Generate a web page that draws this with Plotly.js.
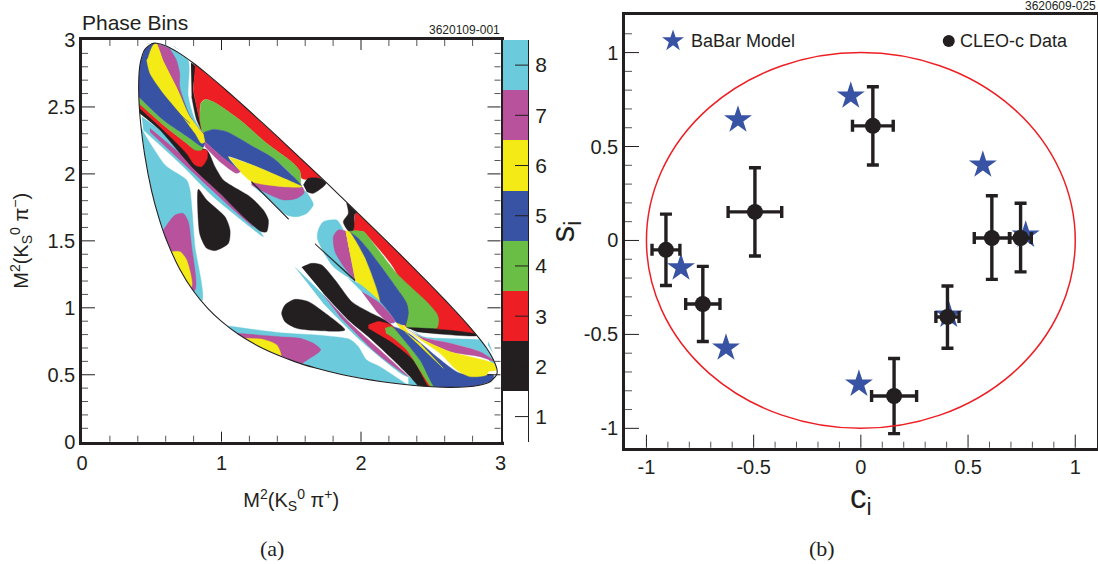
<!DOCTYPE html>
<html><head><meta charset="utf-8">
<script src="https://cdn.plot.ly/plotly-3.0.1.min.js"></script>
<style>html,body{margin:0;padding:0;background:#fff}#c{width:1098px;height:564px}</style>
</head><body><div id="c"></div>
<script>
// Panel (b) data
const starC=[-0.573,-0.047,0.569,0.769,0.41,-0.009,-0.629,-0.839];
const starS=[0.642,0.769,0.402,0.029,-0.397,-0.764,-0.572,-0.146];
const dataC=[-0.909,-0.737,-0.494,0.056,0.611,0.745,0.404,0.155];
const dataS=[-0.05,-0.338,0.152,0.61,0.013,0.013,-0.407,-0.828];
const errC=[0.065,0.08,0.125,0.095,0.082,0.05,0.054,0.105];
const errSup=[0.19,0.2,0.235,0.208,0.225,0.185,0.165,0.2];
const errSdn=[0.19,0.2,0.235,0.208,0.22,0.18,0.167,0.2];
// Colour scale
const binNames=[1,2,3,4,5,6,7,8];
const binColors=["#ffffff","#231f20","#ed1f24","#6abd45","#3953a4","#f4ea16","#b8529c","#6bcbdc"];
const binOnes=[1,1,1,1,1,1,1,1];
// Tick positions
const dalitzMajorX=[1,2];
const dalitzMinorX=[.2,.4,.6,.8,1.2,1.4,1.6,1.8,2.2,2.4,2.6,2.8];
const dalitzMajorY=[.5,1,1.5,2,2.5];
const dalitzMinorY=[.1,.2,.3,.4,.6,.7,.8,.9,1.1,1.2,1.3,1.4,1.6,1.7,1.8,1.9,2.1,2.2,2.3,2.4,2.6,2.7,2.8,2.9];
const phaseMajor=[-1,-0.5,0,0.5,1];
const phaseMinorX=[-.9,-.8,-.7,-.6,-.4,-.3,-.2,-.1,.1,.2,.3,.4,.6,.7,.8,.9];
const phaseMinorY=[-.9,-.8,-.7,-.6,-.4,-.3,-.2,-.1,.1,.2,.3,.4,.6,.7,.8,.9,1.1];
// Dalitz boundary, M2(KSpi+) and M2(KSpi-)
const edgeX=[.406,.41,.42,.45,.5,.533,.6,.7,.8,.9,1.0,1.1,1.3,1.5,1.75,2.0,2.3,2.6,2.8,2.9,2.95,2.976,2.972,2.929,2.84,2.764,2.64,2.512,2.382,2.139,1.868,1.675,1.521,1.29,1.124,.998,.9,.8,.7,.6,.55,.5,.45,.42,.41,.406];
const edgeY=[2.64,2.764,2.84,2.929,2.972,2.976,2.957,2.9,2.826,2.743,2.655,2.564,2.375,2.182,1.936,1.685,1.379,1.061,.832,.7,.61,.533,.5,.45,.42,.41,.406,.41,.42,.45,.5,.55,.6,.7,.8,.9,.998,1.124,1.29,1.521,1.675,1.868,2.139,2.382,2.512,2.64];
const frameX=[.09,.09,2.91,2.90,2.96,2.985,2.96,2.91,2.91,.72,.62,.52,.44,.41,.09,.09];
const frameY=[2.64,.09,.09,.38,.43,.53,.64,.72,2.91,2.91,2.975,2.99,2.96,2.91,2.91,2.64];
// Phase-bin regions, outlines
const leftCyanX=[.40,.44,.595,.643,.75,.774,.81,.858,.70,.30];
const leftCyanY=[2.42,2.315,2.066,2.029,1.954,1.879,1.457,1.046,1.05,2.0];
const leftMagX=[.583,.667,.726,.762,.786,.81,.70,.50];
const leftMagY=[1.581,1.693,1.705,1.643,1.457,1.133,1.10,1.50];
const leftYelX=[.643,.703,.75,.786,.70,.60];
const leftYelY=[1.419,1.419,1.357,1.157,1.15,1.35];
const dropAX=[.834,.894,1.025,1.061,1.049,.953,.894,.846,.829];
const dropAY=[1.885,1.805,1.68,1.581,1.481,1.427,1.444,1.544,1.755];
const stripCyanX=[.428,.559,.726,.834,1.061,1.30,1.204,.941,.726,.44];
const stripCyanY=[2.427,2.327,2.165,2.079,1.855,1.531,1.605,1.83,2.054,2.327];
const stripMagX=[.487,.726,.989,1.228,1.061,.726,.487];
const stripMagY=[2.34,2.128,1.855,1.605,1.755,2.079,2.315];
const bandBlackX=[.392,.774,.894,.953,1.013,1.085,1.204,1.30,1.336,1.324,1.288,1.157,.989,.81,.703,.559,.416,.392];
const bandBlackY=[2.514,2.2,2.178,2.054,1.954,1.904,1.83,1.73,1.655,1.568,1.568,1.68,1.855,2.029,2.153,2.327,2.452,2.47];
const topRedX=[.392,.583,.75,.81,.894,.898,.858,.81,.75,.583,.392];
const topRedY=[2.55,2.365,2.228,2.178,2.178,2.116,2.054,2.066,2.153,2.327,2.51];
const topGreenX=[.392,.583,.774,.87,.858,.81,.75,.583,.392];
const topGreenY=[2.59,2.402,2.265,2.215,2.178,2.178,2.228,2.365,2.54];
const topBlueX=[.392,.392,.47,.66,.74,.75,.80,.882,.87,.774,.583,.406];
const topBlueY=[2.564,2.826,2.97,2.93,2.85,2.6,2.4,2.24,2.2,2.265,2.402,2.577];
const topYelX=[.464,.487,.583,.703,.81,.858,.906,.774,.679,.583,.54,.511,.476];
const topYelY=[2.85,2.751,2.602,2.452,2.303,2.228,2.265,2.427,2.651,2.85,2.97,2.963,2.875];
const topSliverX=[.547,.619,.774,.703];
const topSliverY=[2.589,2.527,2.377,2.44];
const topMagX=[.54,.631,.679,.703,.703,.774,.858,.906,.822,.679,.583];
const topMagY=[2.97,2.937,2.85,2.751,2.651,2.44,2.315,2.265,2.365,2.651,2.85];
const topCyanX=[.571,.66,.762,.762,.81,.858,.774,.703,.703,.679,.631];
const topCyanY=[2.963,2.95,2.845,2.577,2.402,2.315,2.44,2.651,2.751,2.85,2.937];
const topBlackX=[.781,.81,.798,.822,.858,.822,.786];
const topBlackY=[2.83,2.806,2.626,2.502,2.327,2.402,2.577];
const upRedX=[.81,.79,1.75,1.706,1.634,1.575,1.563,1.515,1.324,1.133,.941,.882,.851,.846,.858,.822,.798];
const upRedY=[2.806,2.905,2.0,1.967,1.954,1.967,2.017,2.079,2.228,2.402,2.539,2.557,2.527,2.402,2.327,2.502,2.626];
const upGreenX=[.882,.941,1.133,1.324,1.515,1.563,1.563,1.515,1.372,1.228,1.037,.941,.87,.846,.851];
const upGreenY=[2.557,2.539,2.402,2.228,2.079,2.017,1.904,1.979,2.116,2.203,2.315,2.332,2.308,2.402,2.527];
const upBlueX=[.87,.941,1.037,1.228,1.372,1.515,1.575,1.419,1.252,1.049,1.133,.989,.882];
const upBlueY=[2.308,2.332,2.315,2.203,2.116,1.979,1.909,1.979,2.054,2.128,2.017,2.14,2.24];
const midCyanX=[1.216,1.443,1.591,1.646,1.658,1.611,1.539,1.467,1.348,1.216];
const midCyanY=[1.942,1.904,1.879,1.805,1.767,1.705,1.68,1.693,1.805,1.917];
const midMagX=[1.216,1.443,1.582,1.591,1.539,1.443,1.324,1.216];
const midMagY=[1.942,1.904,1.899,1.855,1.817,1.805,1.855,1.917];
const midYelX=[1.049,1.252,1.419,1.575,1.443,1.216,1.133];
const midYelY=[2.128,2.054,1.979,1.904,1.904,1.942,2.017];
const bandMagX=[.882,.989,1.133,1.109,.989,.882];
const bandMagY=[2.24,2.14,2.017,2.004,2.091,2.203];
const upBlackX=[1.587,1.622,1.706,1.75,1.658,1.611];
const upBlackY=[1.917,1.967,1.967,1.93,1.855,1.867];
const lineAX=[1.216,1.479,1.479,1.216];
const lineAY=[1.945,1.668,1.66,1.935];
const lowCyanX=[1.049,1.419,1.682,1.921,1.981,2.041,2.136,2.327,2.35,1.2,1.049];
const lowCyanY=[.864,.814,.797,.764,.71,.61,.56,.431,.42,.3,.7];
const lowCyan2X=[2.339,2.447,2.40,2.34];
const lowCyan2Y=[.486,.416,.41,.43];
const lowMagX=[1.121,1.419,1.563,1.658,1.711,1.587,1.5,1.12];
const lowMagY=[.809,.784,.772,.735,.685,.59,.5,.7];
const lowYelX=[1.168,1.30,1.396,1.427,1.35,1.15];
const lowYelY=[.772,.764,.722,.635,.6,.7];
const dropBX=[1.431,1.455,1.527,1.623,1.73,1.885,1.706,1.539,1.455,1.431];
const dropBY=[.959,1.021,1.063,1.046,.971,.834,.829,.847,.896,.959];
const strip2CyanX=[1.527,1.706,1.897,2.136,2.339,2.303,1.993,1.73];
const strip2CyanY=[1.302,1.121,.909,.66,.486,.498,.76,1.033];
const strip2MagX=[1.73,1.897,2.136,2.339,2.112,1.849];
const strip2MagY=[1.096,.909,.685,.486,.66,.934];
const band2BlackX=[1.575,1.646,1.718,1.814,1.933,2.053,2.172,2.232,2.56,2.45,2.351,2.232,2.053,1.909,1.73];
const band2BlackY=[1.302,1.332,1.32,1.208,1.046,.971,.909,.859,.38,.38,.486,.61,.784,.909,1.108];
const lowRedX=[2.053,2.124,2.184,2.232,2.315,2.471,2.58,2.51,2.375,2.232,2.136,2.053];
const lowRedY=[.871,.897,.884,.859,.735,.535,.38,.38,.61,.735,.797,.847];
const lowGreenX=[2.172,2.22,2.28,2.423,2.578,2.6,2.53,2.327,2.22,2.179];
const lowGreenY=[.847,.859,.797,.61,.406,.38,.38,.685,.784,.809];
const lowBlueX=[2.232,2.303,2.375,2.542,2.71,2.949,2.95,2.88,2.566,2.423,2.28];
const lowBlueY=[.859,.834,.784,.635,.511,.498,.47,.40,.361,.61,.797];
const rCyanX=[2.363,2.447,2.566,2.829,2.9,2.97,2.853,2.638,2.423];
const rCyanY=[.834,.784,.772,.764,.76,.56,.672,.735,.784];
const rMagX=[2.327,2.423,2.638,2.853,2.96,2.853,2.638,2.447];
const rMagY=[.847,.784,.735,.672,.598,.635,.672,.759];
const rYelX=[2.303,2.447,2.638,2.829,2.949,2.975,2.913,2.901,2.781,2.686,2.566,2.375];
const rYelY=[.847,.759,.672,.623,.585,.536,.523,.498,.486,.535,.66,.797];
const rSliverX=[2.315,2.59,2.423];
const rSliverY=[.822,.548,.735];
const rSmallX=[2.244,2.315,2.339,2.28];
const rSmallY=[.897,.859,.809,.847];
const rBlackX=[2.327,2.542,2.829,2.829,2.566,2.399];
const rBlackY=[.852,.842,.802,.792,.804,.822];
const lobeCyanX=[1.873,1.826,1.73,1.694,1.687,1.73,1.802,1.957,1.89];
const lobeCyanY=[1.581,1.655,1.643,1.581,1.519,1.419,1.307,1.209,1.5];
const lobeMagX=[1.89,1.837,1.802,1.814,1.885,1.957];
const lobeMagY=[1.574,1.581,1.531,1.419,1.295,1.209];
const fanRedX=[1.957,2.0,2.9,2.829,2.55,2.327,2.3,2.256,2.053,2.017,1.909,1.945];
const fanRedY=[1.705,1.75,.86,.797,.84,.854,.9,1.257,1.531,1.569,1.576,1.581];
const fanGreenX=[1.909,2.017,2.053,2.256,2.471,2.542,2.557,2.542,2.327,2.339,2.327,2.232,2.064,1.981];
const fanGreenY=[1.576,1.569,1.531,1.257,1.046,.959,.909,.847,.854,.959,1.033,1.182,1.419,1.519];
const fanBlueX=[1.909,1.981,2.064,2.232,2.327,2.339,2.315,2.244,2.136,2.029];
const fanBlueY=[1.576,1.519,1.419,1.182,1.033,.959,.872,.897,1.046,1.369];
const fanYelX=[1.89,1.909,2.029,2.132,1.993,1.957];
const fanYelY=[1.569,1.576,1.369,1.046,1.171,1.209];
const s3CyanX=[1.909,2.0,2.136,2.244,2.232,2.136,2.017];
const s3CyanY=[1.22,1.17,1.046,.897,.884,.971,1.108];
const s3MagX=[2.005,2.136,2.244,2.208,2.112];
const s3MagY=[1.12,1.033,.897,.884,.971];
const lineBX=[1.67,1.957,1.957,1.67];
const lineBY=[1.481,1.21,1.198,1.475];
const capBlackX=[1.897,2.0,1.957,1.945,1.909,1.873,1.909,1.897];
const capBlackY=[1.85,1.72,1.705,1.581,1.576,1.643,1.705,1.78];

const regions=[
 [8,leftCyanX,leftCyanY],[7,leftMagX,leftMagY],[6,leftYelX,leftYelY],[2,dropAX.concat(dropAX[0]),dropAY.concat(dropAY[0])],
 [8,stripCyanX,stripCyanY],[7,stripMagX,stripMagY],[2,bandBlackX,bandBlackY],
 [3,topRedX,topRedY],[4,topGreenX,topGreenY],[5,topBlueX,topBlueY],[6,topYelX,topYelY],[5,topSliverX,topSliverY],
 [7,topMagX,topMagY],[8,topCyanX,topCyanY],[2,topBlackX,topBlackY],
 [8,midCyanX,midCyanY],[7,midMagX,midMagY],[3,upRedX,upRedY],[4,upGreenX,upGreenY],[5,upBlueX,upBlueY],[6,midYelX,midYelY],
 [7,bandMagX,bandMagY],[2,upBlackX,upBlackY],[2,lineAX,lineAY],
 [8,lowCyanX,lowCyanY],[8,lowCyan2X,lowCyan2Y],[7,lowMagX,lowMagY],[6,lowYelX,lowYelY],[2,dropBX,dropBY],
 [8,strip2CyanX,strip2CyanY],[7,strip2MagX,strip2MagY],[2,band2BlackX,band2BlackY],
 [3,lowRedX,lowRedY],[4,lowGreenX,lowGreenY],[5,lowBlueX,lowBlueY],[8,rCyanX,rCyanY],[7,rMagX,rMagY],[6,rYelX,rYelY],
 [6,rSliverX,rSliverY],[6,rSmallX,rSmallY],
 [8,lobeCyanX,lobeCyanY],[7,lobeMagX,lobeMagY],[3,fanRedX,fanRedY],[4,fanGreenX,fanGreenY],[5,fanBlueX,fanBlueY],[6,fanYelX,fanYelY],
 [2,rBlackX,rBlackY],[8,s3CyanX,s3CyanY],[7,s3MagX,s3MagY],[2,lineBX,lineBY],[2,capBlackX,capBlackY]
];
const ink="#231f20", fontName="Liberation Sans, Arial, sans-serif";
const traces=regions.map(r=>({type:"scatter",x:r[1],y:r[2],mode:"lines",fill:"toself",
  fillcolor:binColors[r[0]-1],line:{color:binColors[r[0]-1],width:0.4,shape:r[1].length>4?"spline":"linear",smoothing:0.7},hoverinfo:"skip",showlegend:false,xaxis:"x",yaxis:"y"}));
// white outside of the kinematic boundary
traces.push({type:"scatter",x:frameX.concat(edgeX),y:frameY.concat(edgeY),mode:"lines",fill:"toself",fillcolor:"#ffffff",
  line:{width:0},hoverinfo:"skip",showlegend:false,xaxis:"x",yaxis:"y"});
traces.push({type:"scatter",x:edgeX,y:edgeY,mode:"lines",line:{color:ink,width:1.1,shape:"spline",smoothing:0.6},hoverinfo:"skip",showlegend:false,xaxis:"x",yaxis:"y"});
// scale
traces.push({type:"bar",orientation:"h",x:binOnes,y:binNames,width:1,marker:{color:binColors,line:{width:0}},hoverinfo:"skip",showlegend:false,xaxis:"x3",yaxis:"y3"});
// panel b
traces.push({type:"scatter",x:starC,y:starS,mode:"markers",marker:{symbol:"star",size:21,color:"#3953a4",line:{width:0}},showlegend:false,xaxis:"x2",yaxis:"y2"});
traces.push({type:"scatter",x:dataC,y:dataS,mode:"markers",marker:{symbol:"circle",size:16,color:ink},
  error_x:{type:"data",array:errC,thickness:3.4,width:6,color:ink},
  error_y:{type:"data",symmetric:false,array:errSup,arrayminus:errSdn,thickness:3.4,width:6,color:ink},showlegend:false,xaxis:"x2",yaxis:"y2"});
traces.push({type:"scatter",x:[-0.876],y:[1.062],mode:"markers",marker:{symbol:"star",size:16.5,color:"#3953a4",line:{width:0}},showlegend:false,xaxis:"x2",yaxis:"y2"});
traces.push({type:"scatter",x:[0.41],y:[1.062],mode:"markers",marker:{symbol:"circle",size:12,color:ink},showlegend:false,xaxis:"x2",yaxis:"y2"});

const W=1098,H=564;
const tf={family:fontName,size:20,color:ink};
// tick marks, placed through each axis' own scale
const tickShapes=[];
function tickX(axis,vals,frac,color){vals.forEach(v=>tickShapes.push({type:"line",layer:"above",xref:axis,yref:axis.replace("x","y")+" domain",x0:v,x1:v,y0:frac[0],y1:frac[1],line:{color:color,width:1}}));}
function tickY(axis,vals,frac,color){vals.forEach(v=>tickShapes.push({type:"line",layer:"above",yref:axis,xref:axis.replace("y","x")+" domain",y0:v,y1:v,x0:frac[0],x1:frac[1],line:{color:color,width:1}}));}
const gray="#555555";
tickX("x",dalitzMajorX,[0,10/401.7],ink);tickX("x",dalitzMajorX,[1,1-10/401.7],ink);
tickX("x",dalitzMinorX,[0,6/401.7],gray);tickX("x",dalitzMinorX,[1,1-6/401.7],gray);
tickY("y",dalitzMajorY,[0,13/418.5],ink);tickY("y",dalitzMajorY,[1,1-13/418.5],ink);
tickY("y",dalitzMinorY,[0,6/418.5],gray);tickY("y",dalitzMinorY,[1,1-6/418.5],gray);
tickX("x2",phaseMajor,[0,13/432.7],ink);tickX("x2",phaseMinorX,[0,6/432.7],gray);
tickY("y2",phaseMajor,[0,14/471.7],ink);tickY("y2",phaseMinorY,[0,7/471.7],gray);
tickY("y3",binNames,[1,1-13/25.3],ink);

const layout={width:W,height:H,margin:{l:0,r:0,t:0,b:0},paper_bgcolor:"#fff",plot_bgcolor:"#fff",showlegend:false,font:{family:fontName,color:ink},
 bargap:0,
 xaxis:{domain:[82/W,500.5/W],anchor:"y",range:[0,3],tickvals:[0,1,2,3],ticktext:["0","1","2","3"],ticks:"",showgrid:false,zeroline:false,showline:true,linewidth:2.5,linecolor:ink,mirror:true,tickfont:tf,ticklabelstandoff:2,
   title:{text:"M<sup>2</sup>(K<sub>S</sub><sup>0</sup> π<sup>+</sup>)",font:{family:fontName,size:20,color:ink},standoff:20}},
 yaxis:{domain:[1-441.7/H,1-40/H],anchor:"x",range:[0,3],tickvals:[0,0.5,1,1.5,2,2.5,3],ticktext:["0","0.5","1","1.5","2","2.5","3"],ticks:"",showgrid:false,zeroline:false,showline:true,linewidth:2.5,linecolor:ink,mirror:true,tickfont:tf,
   title:{text:"M<sup>2</sup>(K<sub>S</sub><sup>0</sup> π<sup>−</sup>)",font:{family:fontName,size:20,color:ink},standoff:14}},
 xaxis3:{domain:[502.7/W,528/W],anchor:"y3",range:[0,1],visible:false,fixedrange:true},
 yaxis3:{domain:[1-441.7/H,1-40/H],anchor:"x3",side:"right",range:[0.5,8.5],tickvals:binNames,ticks:"",showgrid:false,zeroline:false,showline:true,linewidth:1,linecolor:ink,tickfont:{family:fontName,size:21,color:ink},ticklabelstandoff:2},
 xaxis2:{domain:[625/W,1096.7/W],anchor:"y2",range:[-1.1,1.1],tickvals:phaseMajor,ticktext:["-1","-0.5","0","0.5","1"],ticks:"",showgrid:false,zeroline:false,showline:true,linewidth:2.5,linecolor:ink,mirror:true,tickfont:tf,
   title:{text:"c<sub>i</sub>",font:{family:fontName,size:33,color:ink},standoff:6}},
 yaxis2:{domain:[1-447.7/H,1-15/H],anchor:"x2",range:[-1.103,1.2],tickvals:phaseMajor,ticktext:["-1","-0.5","0","0.5","1"],ticks:"",showgrid:false,zeroline:false,showline:true,linewidth:2.5,linecolor:ink,mirror:true,tickfont:tf,
   title:{text:"s<sub>i</sub>",font:{family:fontName,size:33,color:ink},standoff:0}},
 shapes:[{type:"circle",xref:"x2",yref:"y2",x0:-1,x1:1,y0:-1,y1:1,line:{color:"#ed1f24",width:1.5}}].concat(tickShapes),
 annotations:[
  {xref:"paper",yref:"paper",x:80/W,y:1-23/H,xanchor:"left",yanchor:"middle",text:"Phase Bins",showarrow:false,font:{family:fontName,size:21,color:ink}},
  {xref:"paper",yref:"paper",x:502/W,y:1-30/H,xanchor:"right",yanchor:"middle",text:"3620109-001",showarrow:false,font:{family:fontName,size:12,color:ink}},
  {xref:"paper",yref:"paper",x:1098/W,y:1-6/H,xanchor:"right",yanchor:"middle",text:"3620609-025",showarrow:false,font:{family:fontName,size:12,color:ink}},
  {xref:"x2",yref:"y2",x:-0.80,y:1.062,xanchor:"left",yanchor:"middle",text:"BaBar Model",showarrow:false,font:{family:fontName,size:18,color:ink}},
  {xref:"x2",yref:"y2",x:0.452,y:1.062,xanchor:"left",yanchor:"middle",text:"CLEO-c Data",showarrow:false,font:{family:fontName,size:18,color:ink}},
  {xref:"paper",yref:"paper",x:272/W,y:1-548/H,xanchor:"center",yanchor:"middle",text:"(a)",showarrow:false,font:{family:"Liberation Serif, serif",size:22,color:ink}},
  {xref:"paper",yref:"paper",x:822/W,y:1-548/H,xanchor:"center",yanchor:"middle",text:"(b)",showarrow:false,font:{family:"Liberation Serif, serif",size:22,color:ink}}
 ]};
Plotly.newPlot("c",traces,layout,{displayModeBar:false,responsive:false});
</script></body></html>
